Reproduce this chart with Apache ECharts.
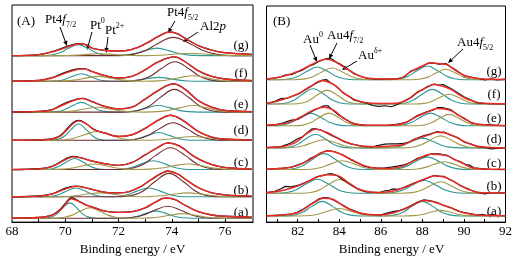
<!DOCTYPE html>
<html>
<head>
<meta charset="utf-8">
<script src="https://cdn.jsdelivr.net/npm/echarts@6/dist/echarts.min.js"></script>
<style>
    html, body { margin: 0; background: #fff; }
    #chart { width: 523px; height: 261px; }
</style>
</head>
<body>
<div id="chart"></div>
<script>
// spectra order: (a) .. (g), heights above each spectrum's own baseline
const spectrumNames = ['(a)', '(b)', '(c)', '(d)', '(e)', '(f)', '(g)'];

// panel A : Pt4f / Al2p
const ptTicks = [69, 70, 71, 72, 73, 74, 75, 76];
const ptTickLabels = [68, 70, 72, 74, 76];
const ptOffsets = [4, 26, 54, 84, 113, 144.7, 171];

const ptRed = [
    [[68,0],[69,0.7],[69.5,3],[69.8,8],[70,14],[70.23,20],[70.5,17.3],[70.8,13.3],[71.1,10.7],[71.5,7.3],[72,6],[72.5,6.7],[73,10.7],[73.4,16.7],[73.75,20.7],[74.1,19.3],[74.5,13.3],[75,6.7],[75.5,3.3],[76,2],[77,1]],
    [[68,0],[69,0.7],[69.5,2.7],[70,8],[70.4,10.7],[70.8,9],[71.2,6.3],[71.6,4.3],[72,4],[72.4,5.3],[72.8,10],[73.2,17],[73.6,23.7],[73.85,26.3],[74.2,23.7],[74.6,16.3],[75,9.3],[75.5,4],[76,2],[77,0.7]],
    [[68,0],[69,0.7],[69.5,3],[70,10],[70.3,13],[70.6,12],[70.9,9.5],[71.2,7.5],[71.6,5.5],[72,4.3],[72.5,7],[73,15],[73.5,23],[73.85,27.3],[74.3,24],[74.8,14],[75.3,7],[75.8,3],[76.5,1],[77,0.5]],
    [[68,0],[69,0.5],[69.5,1.3],[69.8,4],[70,9],[70.3,17.3],[70.5,20],[70.8,16.7],[71.1,10.7],[71.5,7.3],[72,4],[72.5,5.7],[73,12.3],[73.5,20.7],[73.95,25.7],[74.4,20.7],[75,9],[75.5,3.3],[76,1.3],[77,0.5]],
    [[68,0],[69,0.7],[69.5,2.3],[70,8.3],[70.4,12.7],[70.65,14],[71,10.7],[71.5,5.7],[72,3.3],[72.5,5],[73,13.3],[73.5,22.3],[74.07,29],[74.5,23.3],[75,11.7],[75.5,5],[76,1.7],[77,0.5]],
    [[68,0],[69,0.7],[69.5,3.3],[70,8.3],[70.4,11.7],[70.7,12.7],[71,10],[71.5,5.7],[72,3.3],[72.5,5],[73,11.7],[73.5,20],[74.1,25],[74.5,20],[75,10.7],[75.5,5],[76,2.3],[77,0.7]],
    [[68,0],[69,1],[69.5,3.7],[70,8],[70.5,12],[70.8,11],[71,7.7],[71.5,5.3],[72,4.7],[72.5,6.3],[73,12],[73.5,19.7],[73.9,24.3],[74.25,22],[74.5,17.7],[75,10.3],[75.5,5.7],[76,3],[77,1.3]]
];

const ptBlack = [
    [[68,0],[69,0.8],[69.5,3.3],[69.8,8.8],[70,15.2],[70.23,21],[70.5,17.6],[70.8,13.3],[71.1,10.7],[71.5,7.3],[72,6],[72.5,6.7],[73,10.7],[73.4,16.7],[73.75,20.7],[74.1,19.3],[74.5,13.3],[75,6.7],[75.5,3.3],[76,2],[77,1]],
    [[68,0],[69,0.8],[69.5,2.9],[70,8.8],[70.4,11],[70.8,9],[71.2,6.3],[71.6,4.3],[72,4],[72.4,5.3],[72.8,10],[73.2,17.2],[73.6,24],[73.85,26.5],[74.2,23.7],[74.6,16.3],[75,9.3],[75.5,4],[76,2],[77,0.7]],
    [[68,0],[69,0.8],[69.5,3.2],[70,10.8],[70.3,13.6],[70.6,12],[70.9,9.5],[71.2,7.5],[71.6,5.5],[72,4.3],[72.5,7],[73,15],[73.5,23],[73.85,27.3],[74.3,24],[74.8,14],[75.3,7],[75.8,3],[76.5,1],[77,0.5]],
    [[68,0],[69,0.5],[69.5,1.5],[69.8,4.6],[70,10],[70.3,18.3],[70.5,20.5],[70.8,16.7],[71.1,10.7],[71.5,7.3],[72,4],[72.5,5.7],[73,12.3],[73.5,20.7],[73.95,25.7],[74.4,20.7],[75,9],[75.5,3.3],[76,1.3],[77,0.5]],
    [[68,0],[69,0.7],[69.5,2.5],[70,9.3],[70.4,13],[70.65,14],[71,10.7],[71.5,5.7],[72,3.3],[72.5,5],[73,13.3],[73.5,22.3],[74.07,29],[74.5,23.3],[75,11.7],[75.5,5],[76,1.7],[77,0.5]],
    [[68,0],[69,0.8],[69.5,3.6],[70,9.2],[70.4,12.3],[70.7,12.9],[71,10],[71.5,5.7],[72,3.3],[72.5,5],[73,11.7],[73.5,20],[74.1,25],[74.5,20],[75,10.7],[75.5,5],[76,2.3],[77,0.7]],
    [[68,0],[69,1.1],[69.5,4],[70,8.7],[70.5,12.2],[70.8,11],[71,7.7],[71.5,5.3],[72,4.7],[72.5,6.3],[73,12],[73.5,19.7],[73.9,24.3],[74.25,22],[74.5,17.7],[75,10.3],[75.5,5.7],[76,3],[77,1.3]]
];

// Pt0 (teal)
const ptTeal = [
    [[68,0],[69.19,0],[69.47,1.1],[69.68,4.2],[69.89,10],[70.17,15.7],[70.45,10],[70.66,4.2],[70.87,1.1],[71.15,0],[72,0],[72.4,0.5],[72.7,2],[73,4.7],[73.4,7.3],[73.8,4.7],[74.1,2],[74.4,0.5],[74.8,0],[77,0]],
    [[68,0],[69.14,0],[69.5,0.6],[69.77,2.4],[70.04,5.8],[70.4,9],[70.76,5.8],[71.03,2.4],[71.3,0.6],[71.68,0],[72.03,0.6],[72.36,2.4],[72.69,5.8],[73.13,9],[73.57,5.8],[73.9,2.4],[74.23,0.6],[74.67,0],[77,0]],
    [[68,0],[69.16,0],[69.5,0.8],[69.75,3.1],[70.01,7.2],[70.35,11.3],[70.69,7.2],[70.95,3.1],[71.2,0.8],[71.54,0],[71.76,0],[72.2,0.6],[72.53,2.4],[72.86,5.8],[73.3,9],[73.74,5.8],[74.07,2.4],[74.4,0.6],[74.84,0],[77,0]],
    [[68,0],[69.45,0],[69.75,1.2],[69.98,4.5],[70.2,10.7],[70.5,16.7],[70.8,10.7],[71.03,4.5],[71.25,1.2],[71.55,0],[72.1,0],[72.5,0.6],[72.8,2.2],[73.1,5.1],[73.5,8],[73.9,5.1],[74.2,2.2],[74.5,0.6],[74.9,0],[77,0]],
    [[68,0],[69.41,0],[69.75,0.7],[70,2.7],[70.26,6.4],[70.6,10],[70.94,6.4],[71.2,2.7],[71.45,0.7],[71.79,0],[71.96,0],[72.4,0.5],[72.73,1.8],[73.06,4.3],[73.5,6.7],[73.94,4.3],[74.27,1.8],[74.6,0.5],[75.04,0],[77,0]],
    [[68,0],[69.41,0],[69.75,0.5],[70,2.1],[70.26,4.9],[70.6,7.7],[70.94,4.9],[71.2,2.1],[71.45,0.5],[71.79,0],[71.96,0],[72.4,0.3],[72.73,1.1],[73.06,2.6],[73.5,4],[73.94,2.6],[74.27,1.1],[74.6,0.3],[75.04,0],[77,0]],
    [[68,0],[69.15,0],[69.53,0.8],[69.82,3.1],[70.1,7.2],[70.48,11.3],[70.86,7.2],[71.15,3.1],[71.43,0.8],[71.81,0.1],[72.24,0.5],[72.6,2.1],[72.96,4.9],[73.44,7.7],[73.92,4.9],[74.28,2.1],[74.64,0.5],[75.12,0],[77,0]]
];

// Pt2+ (olive)
const ptOlive = [
    [[68,0],[69.53,0],[69.93,0.7],[70.23,2.9],[70.53,6.8],[70.93,10.7],[71.33,6.8],[71.63,2.9],[71.93,0.7],[72.33,0],[72.72,0],[73.2,0.3],[73.56,1.3],[73.92,3],[74.4,4.7],[74.88,3],[75.24,1.3],[75.6,0.3],[76.08,0],[77,0]],
    [[68,0],[69.5,0],[70,0.3],[70.39,1.1],[70.78,2.6],[71.3,4],[71.82,2.6],[72.21,1.1],[72.6,0.3],[73,0],[73.2,0.3],[73.62,1.1],[74.04,2.6],[74.6,4],[75.16,2.6],[75.58,1.1],[76,0.3],[76.5,0],[77,0]],
    [[68,0],[69.42,0],[69.9,0.4],[70.26,1.5],[70.62,3.6],[71.1,5.7],[71.58,3.6],[71.94,1.5],[72.3,0.4],[72.79,0],[73.2,0.4],[73.62,1.5],[74.04,3.6],[74.6,5.7],[75.16,3.6],[75.58,1.5],[76,0.4],[76.5,0],[77,0]],
    [[68,0],[69.52,0],[70,0.6],[70.36,2.4],[70.72,5.8],[71.2,9],[71.68,5.8],[72.04,2.4],[72.4,0.6],[72.9,0],[73,0],[73.4,0.3],[73.82,1.1],[74.24,2.6],[74.8,4],[75.36,2.6],[75.78,1.1],[76.2,0.3],[76.7,0],[77,0]],
    [[68,0],[69.52,0],[70,0.4],[70.36,1.4],[70.72,3.2],[71.2,5],[71.68,3.2],[72.04,1.4],[72.4,0.4],[72.95,0],[73.5,0.5],[73.89,1.8],[74.28,4.3],[74.8,6.7],[75.32,4.3],[75.71,1.8],[76.1,0.5],[76.62,0],[77,0]],
    [[68,0],[69.57,0],[70.05,0.4],[70.41,1.4],[70.77,3.2],[71.25,5],[71.73,3.2],[72.09,1.4],[72.45,0.4],[72.95,0],[73.5,0.4],[73.89,1.5],[74.28,3.6],[74.8,5.7],[75.32,3.6],[75.71,1.5],[76.1,0.4],[76.62,0],[77,0]],
    [[68,0],[69.62,0],[70.1,0.1],[70.46,0.5],[70.82,1.3],[71.3,2],[71.78,1.3],[72.14,0.5],[72.5,0.1],[72.74,0],[73.3,0.2],[73.72,0.7],[74.14,1.6],[74.7,2.5],[75.26,1.6],[75.68,0.7],[76.1,0.2],[76.66,0],[77,0]]
];

// Al2p (brown)
const ptBrown = [
    [[68,0],[72.03,0],[72.55,0.9],[72.94,3.3],[73.33,7.9],[73.85,12.3],[74.37,7.9],[74.76,3.3],[75.15,0.9],[75.67,0],[77,0]],
    [[68,0],[72,0],[72.55,1.7],[72.96,6.5],[73.36,15.4],[73.9,24],[74.44,15.4],[74.85,6.5],[75.25,1.7],[75.8,0],[77,0]],
    [[68,0],[71.95,0],[72.55,1.6],[72.97,6],[73.39,14.3],[73.95,22.3],[74.51,14.3],[74.93,6],[75.35,1.6],[75.95,0],[77,0]],
    [[68,0],[72.15,0],[72.7,1.3],[73.1,4.9],[73.51,11.5],[74.05,18],[74.59,11.5],[75,4.9],[75.4,1.3],[75.95,0],[77,0]],
    [[68,0],[72.2,0],[72.75,1.6],[73.16,6.3],[73.56,14.9],[74.1,23.3],[74.64,14.9],[75.05,6.3],[75.45,1.6],[76,0],[77,0]],
    [[68,0],[72.3,0],[72.82,1.4],[73.21,5.4],[73.6,12.8],[74.12,20],[74.64,12.8],[75.03,5.4],[75.42,1.4],[75.94,0],[77,0]],
    [[68,0],[71.95,0],[72.55,1.3],[73,5],[73.45,12],[74.05,18.7],[74.7,12],[75.2,5],[75.7,1.3],[76.35,0],[77,0]]
];

// panel B : Au4f
const auTicks = [81, 82, 83, 84, 85, 86, 87, 88, 89, 90, 91];
const auTickLabels = [82, 84, 86, 88, 90, 92];
const auOffsets = [6.3, 29.7, 54, 76.3, 99, 121.3, 146.3];

const auRed = [
    [[80.5,0.2],[81.3,1],[81.98,3.3],[82.3,7],[82.62,11.7],[83.02,16.7],[83.26,18.3],[83.5,18],[83.74,16.7],[84.23,10],[84.7,5],[85.35,1.7],[86,1],[86.64,3.3],[87.05,6.5],[87.44,10],[87.8,14],[88.08,16],[88.4,15.2],[88.72,13.3],[89.05,10.8],[89.37,8.3],[89.7,5.5],[90,3.3],[90.65,1],[91.3,0.5],[92,0.3]],
    [[80.5,0.5],[81.1,2],[81.66,5],[82.1,8],[82.46,11.7],[82.94,16.7],[83.42,19],[83.9,18.3],[84.39,11.7],[84.87,5],[85.35,1.7],[85.9,0.8],[86.4,1.5],[86.8,3.3],[87.2,6.2],[87.6,10],[88.08,14.3],[88.56,17.7],[89.05,16.7],[89.53,11.7],[89.85,7.8],[90.17,4.3],[90.65,1],[91.3,0.3],[92,0.2]],
    [[80.5,0.3],[81.3,1.2],[81.98,4],[82.62,10.7],[83.1,16.7],[83.42,19],[83.75,18.3],[84.07,15.7],[84.55,10.7],[85.2,4],[85.83,1.3],[86.4,1],[86.8,2],[87.12,4],[87.76,10.7],[88.4,15.7],[88.8,15.5],[89.2,14],[89.55,10.5],[89.85,7.3],[90.2,3.5],[90.48,1.3],[91.2,0.4],[92,0.2]],
    [[80.5,0.3],[81.2,1],[81.6,3],[81.98,6.7],[82.46,15],[82.86,19],[83.42,15.7],[83.9,10],[84.55,4.3],[85.2,1.5],[85.8,1.2],[86.5,1.8],[87.1,3.5],[87.6,8.3],[88.08,11.7],[88.4,14],[88.72,16],[89.05,15.5],[89.37,13.3],[89.7,10],[90,6.7],[90.35,3.5],[90.65,1.7],[91.3,0.4],[92,0.2]],
    [[80.5,0.5],[81.1,1.5],[81.66,4],[82.3,10.7],[82.78,16.3],[83.26,19],[83.74,15.7],[84.23,7.3],[84.7,2.3],[85.3,0.6],[86.3,0.4],[86.8,1],[87.25,4],[87.76,9.7],[88.24,14],[88.72,17.7],[89.05,17.2],[89.37,15.7],[89.7,11.5],[90,7.3],[90.35,3.5],[90.65,1.7],[91.3,0.4],[92,0.2]],
    [[80.5,0.8],[80.9,2.2],[81.34,5],[81.98,10],[82.6,18],[83.18,24],[83.74,20],[84.2,11.7],[84.7,5],[85.2,1.7],[86,0.5],[86.7,0.7],[87.12,2.7],[87.45,6.5],[87.76,11.7],[88.24,17.3],[88.56,20],[88.95,18.5],[89.37,15],[89.7,10.5],[90,6.7],[90.35,3.5],[90.65,1.7],[91.2,0.5],[92,0.2]],
    [[80.5,0.5],[80.85,1.7],[81.4,4],[81.98,8.3],[82.4,12.5],[82.78,16.7],[83.34,21],[83.7,19.5],[84.07,15],[84.4,10.5],[84.71,6.7],[85,3.5],[85.35,1.7],[86,0.8],[86.8,0.8],[87.1,2.8],[87.44,8.3],[88,14],[88.4,17.3],[88.8,16.5],[89.13,15.7],[89.4,12.5],[89.69,8.3],[90,4.5],[90.33,2.3],[91,0.7],[92,0.3]]
];

const auBlack = [
    [[80.5,0.2],[81.3,1.2],[81.7,2],[81.98,3.8],[82.3,7.5],[82.62,12],[82.85,15],[83.02,17.5],[83.26,19],[83.5,18.5],[83.74,16.2],[84,13],[84.23,10.5],[84.5,7],[84.7,5.5],[85,3],[85.35,1.5],[86,1.2],[86.3,3],[86.64,4.8],[86.9,5.5],[87.1,7],[87.44,10.5],[87.8,14.5],[88.08,16.5],[88.25,16],[88.4,15.5],[88.72,13.8],[89.05,10.5],[89.37,8.6],[89.7,5.2],[90,3.5],[90.3,2.5],[90.65,0.8],[90.9,1.8],[91.1,0.5],[91.3,1.5],[91.6,0.6],[92,0.3]],
    [[80.5,0.5],[80.9,2],[81.2,4.5],[81.4,7],[81.66,6.5],[81.9,7.5],[82.1,8.5],[82.46,12],[82.7,14],[82.94,17],[83.2,18],[83.42,19.5],[83.65,20],[83.9,18],[84.15,14],[84.39,11],[84.6,8],[84.87,4.5],[85.35,1.2],[85.9,0.5],[86.2,2.5],[86.4,3],[86.6,4.5],[86.8,4],[87,5],[87.2,6.8],[87.6,10.5],[88.08,14],[88.3,16],[88.56,18.2],[88.8,17.5],[89.05,17.2],[89.3,14],[89.53,12],[89.85,7.5],[90.17,4.8],[90.4,2.5],[90.65,0.8],[91,-0.8],[91.3,0.2],[92,0.3]],
    [[80.5,0.3],[81.3,1.5],[81.7,2.5],[81.98,4.5],[82.3,7],[82.62,11.5],[82.9,14.5],[83.1,17],[83.42,19.5],[83.75,18.5],[84.07,16],[84.3,13.5],[84.55,10],[84.9,6.5],[85.2,3.5],[85.5,2],[85.83,1.5],[86.2,1.8],[86.5,2.5],[86.8,3.5],[87.12,4.8],[87.4,7],[87.76,11.5],[88.1,13.5],[88.4,16],[88.8,16.2],[89.2,14.5],[89.55,10],[89.85,7.8],[90.1,5],[90.3,4.2],[90.48,1.8],[91.2,0.2],[92,0]],
    [[80.5,0.3],[81.2,1.2],[81.5,3.5],[81.7,5.5],[81.98,9],[82.2,11],[82.46,15.5],[82.7,19.5],[82.86,19.5],[83.1,18.5],[83.42,15],[83.7,12],[83.9,10.5],[84.2,6.5],[84.55,4],[85.2,1.2],[85.6,1],[85.9,2.5],[86.2,3.8],[86.5,4.2],[86.8,4],[87.1,4.5],[87.35,6],[87.6,8.8],[88.08,12.5],[88.4,14.5],[88.72,16.8],[88.9,15.8],[89.05,16.2],[89.37,13],[89.7,10.5],[90,6],[90.35,3.8],[90.65,1.2],[91,0.3],[91.3,-1],[91.6,-0.5],[92,0.2]],
    [[80.5,0.3],[81,1.2],[81.3,3],[81.66,5.5],[82,6.5],[82.3,10],[82.55,13],[82.78,16],[83,18],[83.26,20.5],[83.45,20.5],[83.74,15],[84,10.5],[84.23,7.8],[84.5,4],[84.7,2],[85.3,0.3],[86.3,0.5],[86.8,1.8],[87.25,3.5],[87.5,7],[87.76,10.5],[88,12.5],[88.24,14.5],[88.5,16],[88.72,18.5],[89,18.5],[89.37,16.5],[89.7,11],[90,8],[90.35,3],[90.65,1.5],[91.3,0.8],[92,0]],
    [[80.5,0.5],[80.9,2.8],[81.2,5.5],[81.5,6],[81.8,8.5],[82.1,11],[82.4,15],[82.6,17.5],[82.9,21.5],[83.18,24.5],[83.4,25],[83.6,21.5],[83.8,19],[84,15.5],[84.2,11],[84.5,7.5],[84.7,4.2],[85,2.5],[85.3,1],[85.6,-1.5],[85.9,-2.5],[86.2,-1.8],[86.5,-2.8],[86.8,-0.5],[87.12,3.2],[87.45,7],[87.76,12.5],[88,14.5],[88.24,18],[88.56,20.5],[88.8,19.5],[89,20],[89.37,16],[89.7,11.5],[90,7.5],[90.35,4],[90.65,1.2],[91.2,0.3],[92,0]],
    [[80.5,0.3],[80.8,1.5],[81.1,2.3],[81.4,4.8],[81.7,5.2],[81.98,8],[82.2,9.5],[82.4,12],[82.6,14.5],[82.78,15.8],[83,18.5],[83.34,21.5],[83.55,22],[83.7,20.5],[83.9,17.5],[84.07,15.8],[84.4,11],[84.71,6.2],[85,3.8],[85.35,1.2],[86,0.4],[86.8,1.2],[87.1,2.5],[87.44,8.8],[87.7,10.5],[88,13.8],[88.2,16.2],[88.4,17.2],[88.6,16.8],[88.8,16],[89.13,16.5],[89.4,12.8],[89.69,8.8],[90,4.2],[90.33,2.6],[90.7,1.2],[91,-0.3],[91.3,0.8],[91.6,-0.2],[92,0.5]]
];

// Au0 (teal)
const auTeal = [
    [[80.5,0],[81.36,0],[81.88,1.1],[82.27,4.1],[82.66,9.6],[83.18,15],[83.7,9.6],[84.09,4.1],[84.48,1.1],[85,0],[86.18,0],[86.7,1.1],[87.09,4.1],[87.48,9.6],[88,15],[88.52,9.6],[88.91,4.1],[89.3,1.1],[89.82,0],[92,0]],
    [[80.5,0],[80.98,0],[81.54,1],[81.96,3.9],[82.38,9.2],[82.94,14.3],[83.5,9.2],[83.92,3.9],[84.34,1],[84.9,0],[86.12,0],[86.68,0.9],[87.1,3.6],[87.52,8.5],[88.08,13.3],[88.64,8.5],[89.06,3.6],[89.48,0.9],[90.04,0],[92,0]],
    [[80.5,0],[81.3,0],[81.86,1.1],[82.28,4.4],[82.7,10.4],[83.26,16.3],[83.82,10.4],[84.24,4.4],[84.66,1.1],[85.22,0],[86.28,0],[86.84,0.9],[87.26,3.5],[87.68,8.3],[88.24,13],[88.8,8.3],[89.22,3.5],[89.64,0.9],[90.2,0],[92,0]],
    [[80.5,0],[81.18,0],[81.66,1],[82.02,3.8],[82.38,9],[82.86,14],[83.34,9],[83.7,3.8],[84.06,1],[84.54,0],[86.18,0],[86.7,0.7],[87.09,2.7],[87.48,6.4],[88,10],[88.52,6.4],[88.91,2.7],[89.3,0.7],[89.82,0],[92,0]],
    [[80.5,0],[80.8,0],[81.32,0.9],[81.71,3.5],[82.1,8.3],[82.62,13],[83.14,8.3],[83.53,3.5],[83.92,0.9],[84.44,0],[86.58,0],[87.1,0.9],[87.49,3.5],[87.88,8.3],[88.4,13],[88.92,8.3],[89.31,3.5],[89.7,0.9],[90.22,0],[92,0]],
    [[80.5,0],[80.93,0],[81.45,1.1],[81.84,4.2],[82.23,10],[82.75,15.7],[83.27,10],[83.66,4.2],[84.05,1.1],[84.57,0],[86.66,0],[87.18,1.1],[87.57,4.1],[87.96,9.6],[88.48,15],[89,9.6],[89.39,4.1],[89.78,1.1],[90.3,0],[92,0]],
    [[80.5,0],[81.12,0],[81.64,0.9],[82.03,3.5],[82.42,8.3],[82.94,13],[83.46,8.3],[83.85,3.5],[84.24,0.9],[84.76,0],[86.42,0],[86.94,1],[87.33,3.8],[87.72,9],[88.24,14],[88.76,9],[89.15,3.8],[89.54,1],[90.06,0],[92,0]]
];

// Au delta+ (olive)
const auOlive = [
    [[80.5,0],[82.04,0],[82.6,0.5],[83.02,2.1],[83.44,4.9],[84,7.7],[84.56,4.9],[84.98,2.1],[85.4,0.5],[85.96,0],[87.06,0],[87.58,0.4],[87.97,1.5],[88.36,3.6],[88.88,5.7],[89.4,3.6],[89.79,1.5],[90.18,0.4],[90.7,0],[92,0]],
    [[80.5,0],[82.18,0],[82.7,1],[83.09,3.8],[83.48,9],[84,14],[84.52,9],[84.91,3.8],[85.3,1],[85.82,0],[87.06,0],[87.58,0.8],[87.97,3.2],[88.36,7.5],[88.88,11.7],[89.4,7.5],[89.79,3.2],[90.18,0.8],[90.7,0],[92,0]],
    [[80.5,0],[82.19,0],[82.75,0.6],[83.17,2.4],[83.59,5.8],[84.15,9],[84.71,5.8],[85.13,2.4],[85.55,0.6],[86.11,0],[87.23,0],[87.75,0.6],[88.14,2.2],[88.53,5.1],[89.05,8],[89.57,5.1],[89.96,2.2],[90.35,0.6],[90.87,0],[92,0]],
    [[80.5,0],[81.3,0],[81.86,0.6],[82.28,2.2],[82.7,5.3],[83.26,8.3],[83.82,5.3],[84.24,2.2],[84.66,0.6],[85.22,0],[87.06,0],[87.58,0.9],[87.97,3.3],[88.36,7.9],[88.88,12.3],[89.4,7.9],[89.79,3.3],[90.18,0.9],[90.7,0],[92,0]],
    [[80.5,0],[81.82,0],[82.3,0.9],[82.66,3.5],[83.02,8.3],[83.5,13],[83.98,8.3],[84.34,3.5],[84.7,0.9],[85.18,0],[87.61,0],[88.09,0.8],[88.45,3.2],[88.81,7.5],[89.29,11.7],[89.77,7.5],[90.13,3.2],[90.49,0.8],[90.97,0],[92,0]],
    [[80.5,0],[81.74,0],[82.22,1],[82.58,3.9],[82.94,9.2],[83.42,14.3],[83.9,9.2],[84.26,3.9],[84.62,1],[85.1,0],[87.61,0],[88.09,0.7],[88.45,2.7],[88.81,6.4],[89.29,10],[89.77,6.4],[90.13,2.7],[90.49,0.7],[90.97,0],[92,0]],
    [[80.5,0],[81.84,0],[82.36,0.8],[82.75,3.2],[83.14,7.7],[83.66,12],[84.18,7.7],[84.57,3.2],[84.96,0.8],[85.48,0],[87.45,0],[87.93,0.7],[88.29,2.9],[88.65,6.8],[89.13,10.7],[89.61,6.8],[89.97,2.9],[90.33,0.7],[90.81,0],[92,0]]
];

const serif = 'Liberation Serif';
const RED = '#ec2a26', BLACK = '#151515', TEAL = '#2e9795', OLIVE = '#a19847', BROWN = '#712c2c';

const chart = echarts.init(document.getElementById('chart'), null, { renderer: 'canvas' });

// lift each spectrum onto its own baseline
function shift(points, offset) {
    return points.map(p => [p[0], p[1] + offset]);
}

const series = [];
function addPanel(axisIndex, offsets, layers) {
    layers.forEach(layer => {
        layer.data.forEach((pts, i) => {
            series.push({
                type: 'line',
                xAxisIndex: axisIndex,
                yAxisIndex: axisIndex,
                data: shift(pts, offsets[i]),
                symbol: 'none',
                smooth: layer.smooth,
                silent: true,
                lineStyle: { color: layer.color, width: layer.width }
            });
        });
    });
}

addPanel(0, ptOffsets, [
    { data: ptTeal, color: TEAL, width: 1.1, smooth: 0.4 },
    { data: ptBrown, color: BROWN, width: 1.1, smooth: 0.4 },
    { data: ptOlive, color: OLIVE, width: 1.1, smooth: 0.4 },
    { data: ptBlack, color: BLACK, width: 1.3, smooth: 0.4 },
    { data: ptRed, color: RED, width: 1.4, smooth: 0.4 }
]);
addPanel(1, auOffsets, [
    { data: auTeal, color: TEAL, width: 1.1, smooth: 0.4 },
    { data: auOlive, color: OLIVE, width: 1.1, smooth: 0.4 },
    { data: auBlack, color: BLACK, width: 1.2, smooth: false },
    { data: auRed, color: RED, width: 1.5, smooth: 0.4 }
]);

function xAxisFor(gridIndex, min, max, ticks, labels, namePad) {
    return {
        type: 'value', gridIndex, min, max,
        name: 'Binding energy / eV', nameLocation: 'middle', nameGap: 14,
        nameTextStyle: { fontFamily: serif, fontSize: 13, color: '#000', padding: namePad },
        axisLine: { show: true, onZero: false, lineStyle: { color: '#000', width: 1 } },
        axisTick: { show: true, inside: true, length: 3, customValues: ticks, lineStyle: { color: '#000' } },
        axisLabel: { customValues: labels, fontFamily: serif, fontSize: 13, color: '#000', margin: 3 },
        splitLine: { show: false }
    };
}

// annotation text helpers
const rich = {
    n: { fontFamily: serif, fontSize: 13, lineHeight: 18, fill: '#000' },
    i: { fontFamily: serif, fontSize: 13, fontStyle: 'italic', lineHeight: 18, fill: '#000' },
    sb: { fontFamily: serif, fontSize: 8, lineHeight: 9, verticalAlign: 'bottom', fill: '#000' },
    sp: { fontFamily: serif, fontSize: 8, lineHeight: 9, verticalAlign: 'top', fill: '#000' }
};
function label(text, x, y, align) {
    return {
        type: 'text', x, y, silent: true,
        style: { text, rich, fill: '#000', font: '13px ' + serif, align: align || 'left', verticalAlign: 'middle' }
    };
}
function arrow(x1, y1, x2, y2) {
    const dx = x2 - x1, dy = y2 - y1, len = Math.hypot(dx, dy);
    const ux = dx / len, uy = dy / len, hl = 5, hw = 2.2;
    const bx = x2 - ux * hl, by = y2 - uy * hl;
    return [
        { type: 'line', silent: true, shape: { x1, y1, x2: bx, y2: by }, style: { stroke: '#000', lineWidth: 1 } },
        { type: 'polygon', silent: true, shape: { points: [[x2, y2], [bx - uy * hw, by + ux * hw], [bx + uy * hw, by - ux * hw]] }, style: { fill: '#000' } }
    ];
}

const ptLabelY = [213, 191, 163, 131, 105, 74, 46];
const auLabelY = [211.7, 186.7, 163.3, 140, 118.3, 95, 71.7];

const graphic = [
    label('{n|(A)}', 17, 22),
    label('{n|Pt4}{i|f}{sb|7/2}', 45, 20),
    label('{n|Pt}{sp|0}', 90, 26),
    label('{n|Pt}{sp|2+}', 105, 31),
    label('{n|Pt4}{i|f}{sb|5/2}', 167, 13),
    label('{n|Al2}{i|p}', 200, 27),
    ...arrow(60, 27, 67, 46),
    ...arrow(92, 32, 87, 50),
    ...arrow(108, 37, 106, 53),
    ...arrow(175, 21, 168, 33),
    ...arrow(198, 32, 183, 42),
    label('{n|(B)}', 273, 22),
    label('{n|Au}{sp|0}', 303, 40),
    label('{n|Au4}{i|f}{sb|7/2}', 327, 36),
    label('{n|Au}{sp|δ+}', 358, 56),
    label('{n|Au4}{i|f}{sb|5/2}', 457, 43),
    ...arrow(310, 45, 317, 62),
    ...arrow(337, 43, 329, 59),
    ...arrow(357, 61, 342, 70),
    ...arrow(463, 49, 448, 63)
];
spectrumNames.forEach((name, i) => {
    graphic.push(label('{n|' + name + '}', 241, ptLabelY[i], 'center'));
    graphic.push(label('{n|' + name + '}', 494, auLabelY[i], 'center'));
});

chart.setOption({
    animation: false,
    backgroundColor: '#fff',
    grid: [
        { left: 12, right: 270, top: 5, bottom: 33, show: true, borderColor: '#000', borderWidth: 1 },
        { left: 266.5, right: 17.5, top: 6, bottom: 33, show: true, borderColor: '#000', borderWidth: 1 }
    ],
    xAxis: [
        xAxisFor(0, 68, 77.05, ptTicks, ptTickLabels, [0, 0, 0, 0]),
        xAxisFor(1, 80.5, 92, auTicks, auTickLabels, [0, 0, 0, 11])
    ],
    yAxis: [
        { type: 'value', gridIndex: 0, min: 0, max: 223, show: false },
        { type: 'value', gridIndex: 1, min: 0, max: 222, show: false }
    ],
    graphic,
    series
});
</script>
</body>
</html>
